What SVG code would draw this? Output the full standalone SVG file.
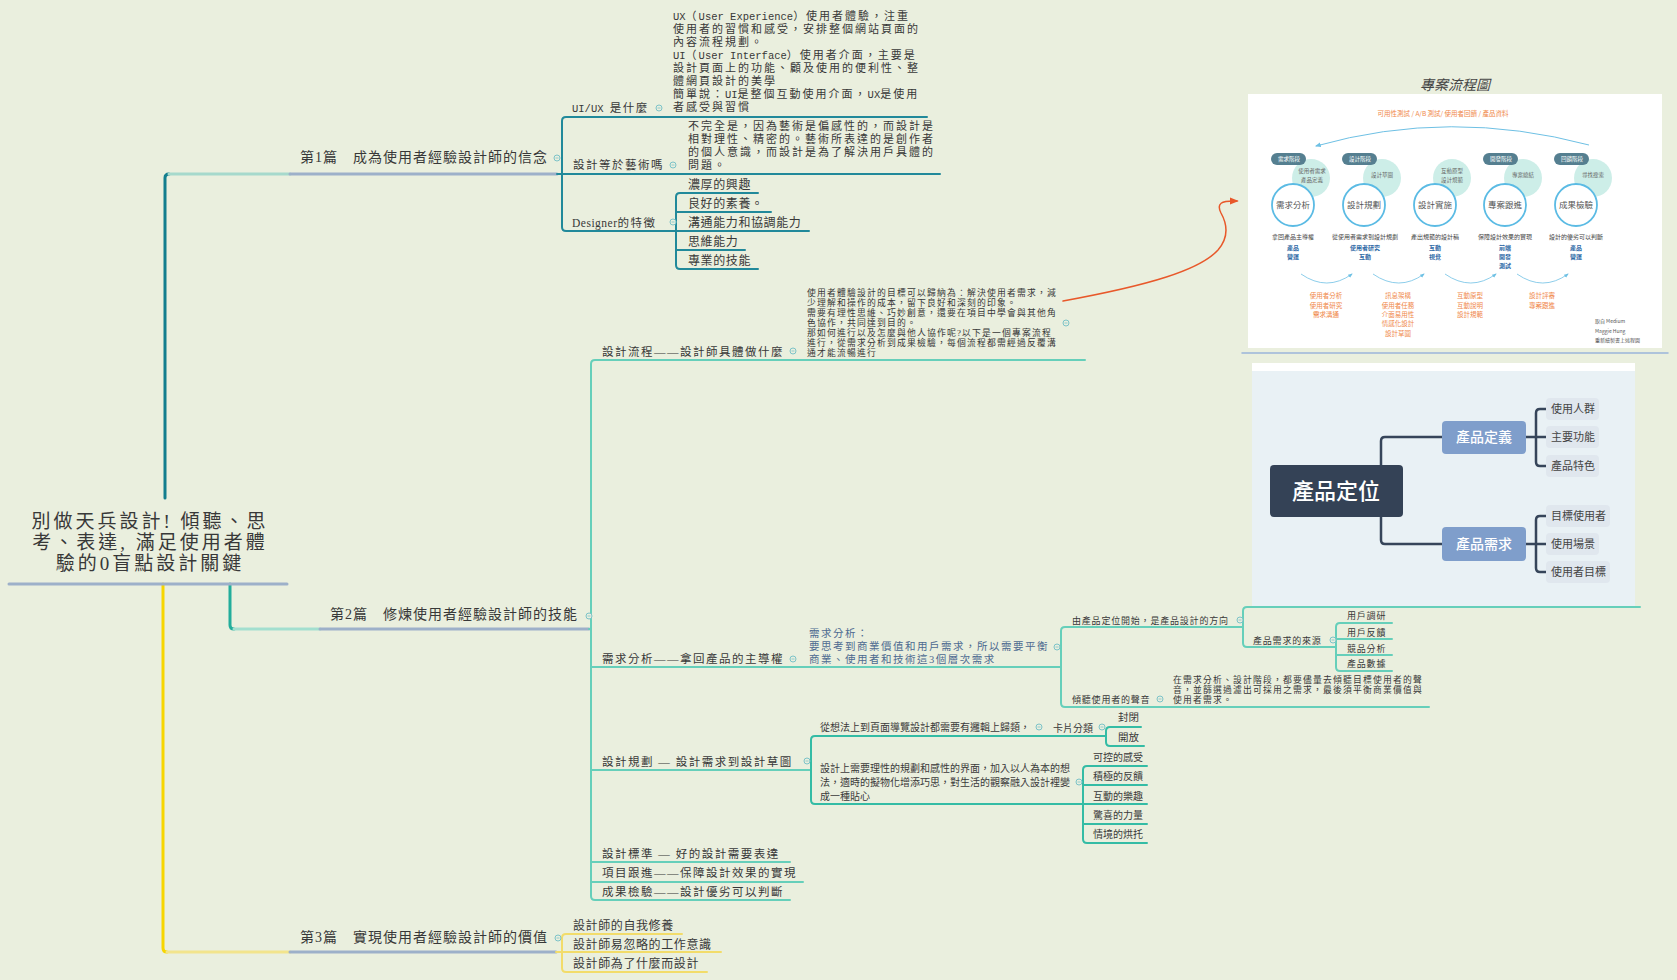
<svg xmlns="http://www.w3.org/2000/svg" width="1677" height="980" viewBox="0 0 1677 980">
<defs>
<style>
.t{font-family:"Liberation Serif","Noto Sans CJK TC",serif;fill:#383838}
.s{font-family:"Noto Sans CJK TC",sans-serif;fill:#3a3a3a}
.m{font-family:"Liberation Mono","Noto Sans CJK TC",monospace;font-size:10.5px;letter-spacing:0}
.root{font-size:19px;letter-spacing:3px}
.main{font-size:14px;letter-spacing:1px}
.sub{font-size:11.5px;letter-spacing:1.5px}
.note{font-size:11px;letter-spacing:2px}
.dch{font-size:12px;letter-spacing:0.6px}
.n10{font-size:8.8px;letter-spacing:1.2px}
.n95{font-size:9px;letter-spacing:0.8px}
.sn{font-size:10px}
.blue{font-size:10.5px;letter-spacing:1.5px;fill:#4d6a90}
.ln{fill:none;stroke-linecap:round;stroke-linejoin:round}
.c1{stroke:#21899a;stroke-width:2}
.c2{stroke:#66cfba;stroke-width:2}
.c2b{stroke:#34bca5;stroke-width:2}
.c3{stroke:#f2dc6a;stroke-width:2}
.ul{stroke:#9db0c9;stroke-width:3}
.pill{fill:#557f90}
.pt{font-family:"Noto Sans CJK TC",sans-serif;font-size:5.5px;fill:#fff;text-anchor:middle}
.lc{fill:#cdeee8}
.lt{font-family:"Noto Sans CJK TC",sans-serif;font-size:5.5px;fill:#666;text-anchor:middle}
.mc{fill:#fff;stroke:#5bbbe4;stroke-width:1.8}
.mt{font-family:"Noto Sans CJK TC",sans-serif;font-size:8.5px;fill:#555;text-anchor:middle}
.ds{font-family:"Noto Sans CJK TC",sans-serif;font-size:6px;fill:#444;text-anchor:middle}
.rl{font-family:"Noto Sans CJK TC",sans-serif;font-size:6px;font-weight:bold;fill:#2f6aa6;text-anchor:middle}
.or{font-family:"Noto Sans CJK TC",sans-serif;font-size:6.5px;fill:#f0884a;text-anchor:middle}
.cr{font-family:"Noto Sans CJK TC",sans-serif;font-size:5px;fill:#555}
.cb{fill:#e0e7ee}
.ct{font-family:"Noto Sans CJK TC",sans-serif;font-size:11px;fill:#444}
</style>
<g id="col"><circle r="3" fill="#eaefde" stroke="#7cc3c8" stroke-width="1"/><path d="M-1.5 0H1.5" stroke="#7cc3c8" stroke-width="0.8"/></g>
<marker id="ao" viewBox="0 0 10 10" refX="8" refY="5" markerWidth="6" markerHeight="6" orient="auto"><path d="M0,1 L10,5 L0,9 z" fill="#e8582a"/></marker>
<marker id="ab" viewBox="0 0 10 10" refX="8" refY="5" markerWidth="6" markerHeight="6" orient="auto"><path d="M0,1 L10,5 L0,9 z" fill="#6ec0e4"/></marker>
</defs>
<rect width="1677" height="980" fill="#eaefde"/>

<g id="connectors">
<path class="ln" d="M165,498 V178 Q165,174 169,174" stroke="#137e8e" stroke-width="3"/>
<path class="ln" d="M169,174 H290" stroke="#a6d9cc" stroke-width="3"/>
<path class="ln ul" d="M290,174 H557"/>
<path class="ln" d="M230,584 V625 Q230,629 234,629" stroke="#22ad9b" stroke-width="3"/>
<path class="ln" d="M234,629 H320" stroke="#a3dfcf" stroke-width="3"/>
<path class="ln ul" d="M320,629 H589"/>
<path class="ln" d="M163,584 V948 Q163,952 167,952" stroke="#f7d600" stroke-width="3"/>
<path class="ln" d="M167,952 H290" stroke="#f2e48c" stroke-width="3"/>
<path class="ln ul" d="M290,952 H556"/>
<path class="ln ul" d="M9,584 H287"/>
<path class="ln c1" d="M927,117 H566 Q562,117 562,121 V227 Q562,231 566,231 H676"/>
<path class="ln c1" d="M557,174 H940"/>
<path class="ln c1" d="M758,193 H680 Q676,193 676,197 V265 Q676,269 680,269 H758"/>
<path class="ln c1" d="M676,212 H771 M676,231 H809 M676,250 H745"/>
<path class="ln c2" d="M1085,360 H595 Q591,360 591,364 V896 Q591,900 595,900 H790"/>
<path class="ln c2" d="M589,629 H591 M591,667 H1061 M591,770 H811 M591,862 H790 M591,882 H803"/>
<path class="ln c2" d="M1243,627 H1065 Q1061,627 1061,631 V703 Q1061,707 1065,707 H1429"/>
<path class="ln c2" d="M1640,607 H1247 Q1243,607 1243,611 V643 Q1243,647 1247,647 H1336"/>
<path class="ln c2" d="M1392,623 H1340 Q1336,623 1336,627 V667 Q1336,671 1340,671 H1392 M1336,639 H1392 M1336,655 H1392"/>
<path class="ln c2b" d="M1106,736 H815 Q811,736 811,740 V800 Q811,804 815,804 H1083"/>
<path class="ln c2b" d="M1141,727 H1110 Q1106,727 1106,731 V742 Q1106,746 1110,746 H1144"/>
<path class="ln c2b" d="M1147,766 H1087 Q1083,766 1083,770 V839 Q1083,843 1087,843 H1147 M1083,785 H1147 M1083,824 H1147 M1083,804 H1147"/>
<path class="ln c3" d="M682,934 H566 Q562,934 562,938 V968 Q562,972 566,972 H707"/>
<path class="ln c3" d="M556,952 H721"/>
<path class="ln" d="M1242,353 H1668" stroke="#9bb5da" stroke-width="1.5"/>
<path class="ln" d="M1063,301 C1150,285 1200,270 1218,250 C1230,236 1226,222 1221,213 C1216,203 1222,201 1234,201 H1237" stroke="#e8582a" stroke-width="1.5" marker-end="url(#ao)"/>
<use href="#col" x="557" y="158"/>
<use href="#col" x="589" y="616"/>
<use href="#col" x="558" y="938"/>
<use href="#col" x="659" y="108"/>
<use href="#col" x="673" y="165"/>
<use href="#col" x="673" y="222"/>
<use href="#col" x="793" y="351"/>
<use href="#col" x="1066" y="323"/>
<use href="#col" x="793" y="659"/>
<use href="#col" x="1057" y="647"/>
<use href="#col" x="1240" y="620"/>
<use href="#col" x="1333" y="640"/>
<use href="#col" x="1160" y="699"/>
<use href="#col" x="807" y="761"/>
<use href="#col" x="1039" y="727"/>
<use href="#col" x="1102" y="727"/>
<use href="#col" x="1079" y="782"/>
</g>

<g id="root">
<text class="t root" text-anchor="middle" x="150" y="528">別做天兵設計! 傾聽、思</text>
<text class="t root" text-anchor="middle" x="150" y="549">考、表達, 滿足使用者體</text>
<text class="t root" text-anchor="middle" x="150" y="570">驗的0盲點設計關鍵</text>
</g>

<g id="n-part1"><text class="t main" x="300" y="162">第1篇　成為使用者經驗設計師的信念</text></g>
<g id="n-part2"><text class="t main" x="330" y="619">第2篇　修煉使用者經驗設計師的技能</text></g>
<g id="n-part3"><text class="t main" x="300" y="942">第3篇　實現使用者經驗設計師的價值</text></g>

<g id="n-uiux">
<text class="t sub" x="572" y="112"><tspan class="m">UI/UX </tspan>是什麼</text>
<text class="t note" x="673" y="20"><tspan class="m">UX</tspan>（<tspan class="m">User Experience</tspan>）使用者體驗，注重</text>
<text class="t note" x="673" y="33">使用者的習慣和感受，安排整個網站頁面的</text>
<text class="t note" x="673" y="46">內容流程規劃。</text>
<text class="t note" x="673" y="59"><tspan class="m">UI</tspan>（<tspan class="m">User Interface</tspan>）使用者介面，主要是</text>
<text class="t note" x="673" y="72">設計頁面上的功能、顧及使用的便利性、整</text>
<text class="t note" x="673" y="85">體網頁設計的美學</text>
<text class="t note" x="673" y="98">簡單說：<tspan class="m">UI</tspan>是整個互動使用介面，<tspan class="m">UX</tspan>是使用</text>
<text class="t note" x="673" y="111">者感受與習慣</text>
</g>
<g id="n-art">
<text class="t sub" x="573" y="169">設計等於藝術嗎</text>
<text class="t note" x="688" y="130">不完全是，因為藝術是偏感性的，而設計是</text>
<text class="t note" x="688" y="143">相對理性、精密的。藝術所表達的是創作者</text>
<text class="t note" x="688" y="156">的個人意識，而設計是為了解決用戶具體的</text>
<text class="t note" x="688" y="169">問題。</text>
</g>
<g id="n-designer"><text class="t sub" x="572" y="227"><tspan letter-spacing="0.5">Designer</tspan>的特徵</text></g>
<g id="n-d1"><text class="t dch" x="688" y="189">濃厚的興趣</text></g>
<g id="n-d2"><text class="t dch" x="688" y="208">良好的素養。</text></g>
<g id="n-d3"><text class="t dch" x="688" y="227">溝通能力和協調能力</text></g>
<g id="n-d4"><text class="t dch" x="688" y="246">思維能力</text></g>
<g id="n-d5"><text class="t dch" x="688" y="265">專業的技能</text></g>

<g id="n-flow">
<text class="t sub" x="602" y="356">設計流程——設計師具體做什麼</text>
<text class="t n10" x="807" y="296">使用者體驗設計的目標可以歸納為：解決使用者需求，減</text>
<text class="t n10" x="807" y="306">少理解和操作的成本，留下良好和深刻的印象。</text>
<text class="t n10" x="807" y="316">需要有理性思維、巧妙創意，還要在項目中學會與其他角</text>
<text class="t n10" x="807" y="326">色協作，共同達到目的。</text>
<text class="t n10" x="807" y="336">那如何進行以及怎麼與他人協作呢?以下是一個專案流程</text>
<text class="t n10" x="807" y="346">進行，從需求分析到成果檢驗，每個流程都需經過反覆溝</text>
<text class="t n10" x="807" y="356">通才能流暢進行</text>
</g>

<g id="n-flowimg">
<text x="1455" y="90" text-anchor="middle" font-family="Noto Sans CJK TC,sans-serif" font-size="14" font-style="italic" fill="#444">專案流程圖</text>
<rect x="1248" y="94" width="414" height="254" fill="#fff"/>
<text class="or" x="1443" y="116">可用性測試 / A/B 測試/ 使用者回饋 / 產品資料</text>
<path d="M1589,145 Q1450,108 1316,146" fill="none" stroke="#6ec0e4" stroke-width="1" marker-end="url(#ab)"/>
<circle class="lc" cx="1311" cy="178" r="19"/>
<circle class="lc" cx="1382" cy="178" r="19"/>
<circle class="lc" cx="1452" cy="178" r="19"/>
<circle class="lc" cx="1523" cy="178" r="19"/>
<circle class="lc" cx="1593" cy="178" r="19"/>
<text class="lt" x="1312" y="173">使用者需求</text>
<text class="lt" x="1312" y="182">產品定義</text>
<text class="lt" x="1382" y="177">設計草圖</text>
<text class="lt" x="1452" y="173">互動原型</text>
<text class="lt" x="1452" y="182">設計規範</text>
<text class="lt" x="1523" y="177">專案總結</text>
<text class="lt" x="1593" y="177">尋找搜索</text>
<rect class="pill" x="1271" y="153" width="35" height="12" rx="6"/>
<rect class="pill" x="1342" y="153" width="35" height="12" rx="6"/>
<rect class="pill" x="1483" y="153" width="35" height="12" rx="6"/>
<rect class="pill" x="1554" y="153" width="35" height="12" rx="6"/>
<text class="pt" x="1289" y="161">需求階段</text>
<text class="pt" x="1360" y="161">設計階段</text>
<text class="pt" x="1501" y="161">開發階段</text>
<text class="pt" x="1572" y="161">回饋階段</text>
<circle class="mc" cx="1293" cy="205" r="21"/>
<circle class="mc" cx="1364" cy="205" r="21"/>
<circle class="mc" cx="1435" cy="205" r="21"/>
<circle class="mc" cx="1505" cy="205" r="21"/>
<circle class="mc" cx="1576" cy="205" r="21"/>
<text class="mt" x="1293" y="208">需求分析</text>
<text class="mt" x="1364" y="208">設計規劃</text>
<text class="mt" x="1435" y="208">設計實施</text>
<text class="mt" x="1505" y="208">專案跟進</text>
<text class="mt" x="1576" y="208">成果檢驗</text>
<text class="ds" x="1293" y="239">拿回產品主導權</text>
<text class="ds" x="1365" y="239">從使用者需求到設計規劃</text>
<text class="ds" x="1435" y="239">產出規範的設計稿</text>
<text class="ds" x="1505" y="239">保障設計效果的實現</text>
<text class="ds" x="1576" y="239">設計的優劣可以判斷</text>
<text class="rl" x="1293" y="250">產品</text><text class="rl" x="1293" y="259">營運</text>
<text class="rl" x="1365" y="250">使用者研究</text><text class="rl" x="1365" y="259">互動</text>
<text class="rl" x="1435" y="250">互動</text><text class="rl" x="1435" y="259">視覺</text>
<text class="rl" x="1505" y="250">前端</text><text class="rl" x="1505" y="259">開發</text><text class="rl" x="1505" y="268">測試</text>
<text class="rl" x="1576" y="250">產品</text><text class="rl" x="1576" y="259">營運</text>
<path d="M1301,274 Q1327,292 1352,274" fill="none" stroke="#6ec0e4" stroke-width="0.8" marker-end="url(#ab)"/>
<path d="M1373,274 Q1399,292 1424,274" fill="none" stroke="#6ec0e4" stroke-width="0.8" marker-end="url(#ab)"/>
<path d="M1445,274 Q1471,292 1496,274" fill="none" stroke="#6ec0e4" stroke-width="0.8" marker-end="url(#ab)"/>
<path d="M1517,274 Q1543,292 1568,274" fill="none" stroke="#6ec0e4" stroke-width="0.8" marker-end="url(#ab)"/>
<text class="or" x="1326" y="298">使用者分析</text><text class="or" x="1326" y="308">使用者研究</text><text class="or" x="1326" y="317">需求溝通</text>
<text class="or" x="1398" y="298">訊息架構</text><text class="or" x="1398" y="308">使用者任務</text><text class="or" x="1398" y="317">介面易用性</text><text class="or" x="1398" y="326">情感化設計</text><text class="or" x="1398" y="336">設計草圖</text>
<text class="or" x="1470" y="298">互動原型</text><text class="or" x="1470" y="308">互動說明</text><text class="or" x="1470" y="317">設計規範</text>
<text class="or" x="1542" y="298">設計評審</text><text class="or" x="1542" y="308">專案跟進</text>
<text class="cr" x="1595" y="323">取自 Medium</text>
<text class="cr" x="1595" y="333">Maggie Hung</text>
<text class="cr" x="1595" y="342">重新繪製書上述程圖</text>
</g>

<g id="n-need">
<text class="t sub" x="602" y="663">需求分析——拿回產品的主導權</text>
<text class="t blue" x="809" y="637">需求分析：</text>
<text class="t blue" x="809" y="650">要思考到商業價值和用戶需求，所以需要平衡</text>
<text class="t blue" x="809" y="663">商業、使用者和技術這3個層次需求</text>
</g>
<g id="n-pos"><text class="t n95" x="1072" y="623.5">由產品定位開始，是產品設計的方向</text></g>

<g id="n-posimg">
<rect x="1252" y="363" width="383" height="8" fill="#fff"/>
<rect x="1252" y="371" width="383" height="235" fill="#e9f1f5"/>
<path d="M1381,465 V441 Q1381,437 1385,437 H1442 M1381,517 V540 Q1381,544 1385,544 H1442 M1526,437 H1546 M1526,544 H1546 M1546,409 H1540 Q1536,409 1536,413 V462 Q1536,466 1540,466 H1546 M1546,516 H1540 Q1536,516 1536,520 V568 Q1536,572 1540,572 H1546" fill="none" stroke="#36455a" stroke-width="2.5"/>
<rect x="1270" y="465" width="133" height="52" rx="4" fill="#344256"/>
<text x="1336" y="499" text-anchor="middle" font-family="Noto Sans CJK TC,sans-serif" font-size="22" font-weight="500" fill="#fff">產品定位</text>
<rect x="1442" y="421" width="84" height="33" rx="4" fill="#7f9ecb"/>
<text x="1484" y="442" text-anchor="middle" font-family="Noto Sans CJK TC,sans-serif" font-size="14" font-weight="500" fill="#fff">產品定義</text>
<rect x="1442" y="527" width="84" height="34" rx="4" fill="#7f9ecb"/>
<text x="1484" y="549" text-anchor="middle" font-family="Noto Sans CJK TC,sans-serif" font-size="14" font-weight="500" fill="#fff">產品需求</text>
<rect class="cb" x="1546" y="398" width="53" height="22" rx="4"/>
<rect class="cb" x="1546" y="426" width="53" height="22" rx="4"/>
<rect class="cb" x="1546" y="455" width="53" height="22" rx="4"/>
<rect class="cb" x="1546" y="505" width="64" height="22" rx="4"/>
<rect class="cb" x="1546" y="533" width="53" height="22" rx="4"/>
<rect class="cb" x="1546" y="561" width="64" height="22" rx="4"/>
<text class="ct" x="1551" y="413">使用人群</text>
<text class="ct" x="1551" y="441">主要功能</text>
<text class="ct" x="1551" y="470">產品特色</text>
<text class="ct" x="1551" y="520">目標使用者</text>
<text class="ct" x="1551" y="548">使用場景</text>
<text class="ct" x="1551" y="576">使用者目標</text>
</g>

<g id="n-src"><text class="t n95" x="1253" y="643.5">產品需求的來源</text></g>
<g id="n-s1"><text class="t n95" x="1347" y="618.5">用戶調研</text></g>
<g id="n-s2"><text class="t n95" x="1347" y="635.5">用戶反饋</text></g>
<g id="n-s3"><text class="t n95" x="1347" y="651.5">競品分析</text></g>
<g id="n-s4"><text class="t n95" x="1347" y="666.5">產品數據</text></g>
<g id="n-listen">
<text class="t n95" x="1072" y="702.5">傾聽使用者的聲音</text>
<text class="t n10" x="1173" y="683">在需求分析、設計階段，都要儘量去傾聽目標使用者的聲</text>
<text class="t n10" x="1173" y="693">音，並篩選過濾出可採用之需求，最後須平衡商業價值與</text>
<text class="t n10" x="1173" y="703">使用者需求。</text>
</g>

<g id="n-plan"><text class="t sub" x="602" y="766">設計規劃 — 設計需求到設計草圖</text></g>
<g id="n-logic"><text class="s sn" x="820" y="731">從想法上到頁面導覽設計都需要有邏輯上歸類，</text></g>
<g id="n-card"><text class="s sn" x="1053" y="731.5">卡片分類</text></g>
<g id="n-close"><text class="s" font-size="10.5" x="1118" y="721">封閉</text></g>
<g id="n-open"><text class="s" font-size="10.5" x="1118" y="741">開放</text></g>
<g id="n-feel">
<text class="s sn" x="820" y="772">設計上需要理性的規劃和感性的界面，加入以人為本的想</text>
<text class="s sn" x="820" y="786">法，適時的擬物化增添巧思，對生活的觀察融入設計裡變</text>
<text class="s sn" x="820" y="800">成一種貼心</text>
</g>
<g id="n-f1"><text class="s sn" x="1093" y="761">可控的感受</text></g>
<g id="n-f2"><text class="s sn" x="1093" y="780">積極的反饋</text></g>
<g id="n-f3"><text class="s sn" x="1093" y="800">互動的樂趣</text></g>
<g id="n-f4"><text class="s sn" x="1093" y="819">驚喜的力量</text></g>
<g id="n-f5"><text class="s sn" x="1093" y="838">情境的烘托</text></g>
<g id="n-std"><text class="t sub" x="602" y="858">設計標準 — 好的設計需要表達</text></g>
<g id="n-track"><text class="t sub" x="602" y="877">項目跟進——保障設計效果的實現</text></g>
<g id="n-result"><text class="t sub" x="602" y="896">成果檢驗——設計優劣可以判斷</text></g>

<g id="n-y1"><text class="t dch" x="573" y="930">設計師的自我修養</text></g>
<g id="n-y2"><text class="t dch" x="573" y="949">設計師易忽略的工作意識</text></g>
<g id="n-y3"><text class="t dch" x="573" y="968">設計師為了什麼而設計</text></g>
</svg>
